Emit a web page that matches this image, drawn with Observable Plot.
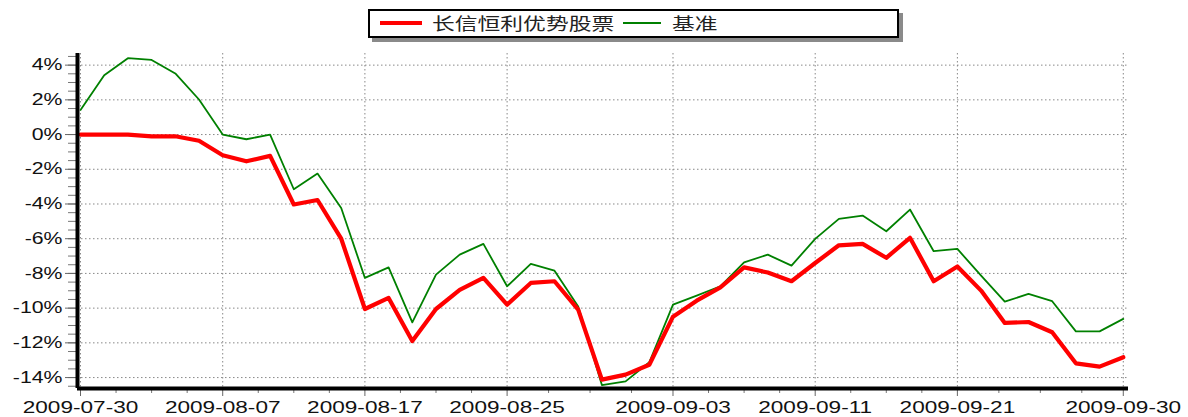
<!DOCTYPE html>
<html>
<head>
<meta charset="utf-8">
<script src="https://cdn.jsdelivr.net/npm/d3@7"></script>
<script src="https://cdn.jsdelivr.net/npm/@observablehq/plot@0.6"></script>
<style>
  html, body { margin: 0; padding: 0; background: #fff; }
  #wrap { position: relative; width: 1188px; height: 417px; overflow: hidden; }
  #legend { position: absolute; left: 368px; top: 9px; width: 527px; height: 25px;
    border: 2px solid #000; background: #fff; box-shadow: 4px 4px 0 #8a8a8a; }
  .sw { position: absolute; }
  .lt { position: absolute; top: 1px; font-family: "Noto Sans CJK SC", sans-serif; font-size: 17px;
    line-height: 22px; color: #222; transform: scaleX(1.34); transform-origin: 0 50%; white-space: nowrap; }
</style>
</head>
<body>
<div id="wrap">
  <div id="chart"></div>
  <div id="legend"></div>
</div>
<script>
const dates = ["2009-07-30","2009-07-31","2009-08-03","2009-08-04","2009-08-05","2009-08-06","2009-08-07",
  "2009-08-10","2009-08-11","2009-08-12","2009-08-13","2009-08-14","2009-08-17","2009-08-18","2009-08-19",
  "2009-08-20","2009-08-21","2009-08-24","2009-08-25","2009-08-26","2009-08-27","2009-08-28","2009-08-31",
  "2009-09-01","2009-09-02","2009-09-03","2009-09-04","2009-09-07","2009-09-08","2009-09-09","2009-09-10",
  "2009-09-11","2009-09-14","2009-09-15","2009-09-16","2009-09-17","2009-09-18","2009-09-21","2009-09-22",
  "2009-09-23","2009-09-24","2009-09-25","2009-09-28","2009-09-29","2009-09-30"];
const fund = [0.0, 0.0, 0.0, -0.1, -0.1, -0.36, -1.19, -1.54, -1.23, -4.03, -3.77, -6.0, -10.05, -9.41, -11.9,
  -10.05, -8.95, -8.26, -9.8, -8.55, -8.45, -10.09, -14.12, -13.83, -13.26, -10.49, -9.57, -8.8, -7.65, -7.95,
  -8.45, -7.4, -6.38, -6.3, -7.1, -5.95, -8.45, -7.6, -8.99, -10.85, -10.8, -11.39, -13.18, -13.37, -12.83];
const bench = [1.42, 3.42, 4.4, 4.3, 3.52, 2.02, 0.0, -0.27, 0.0, -3.15, -2.25, -4.23, -8.26, -7.65, -10.82,
  -8.07, -6.92, -6.3, -8.74, -7.45, -7.84, -9.91, -14.43, -14.22, -13.12, -9.8, -9.28, -8.74, -7.36, -6.92,
  -7.55, -6.01, -4.86, -4.67, -5.57, -4.32, -6.72, -6.59, -8.13, -9.63, -9.18, -9.6, -11.34, -11.34, -10.62];
const seriesNames = ["长信恒利优势股票", "基准"];
const seriesColors = ["#ff0000", "#008000"];
const tickIdx = [0, 6, 12, 18, 25, 31, 37, 44];
const yTicks = [-14, -12, -10, -8, -6, -4, -2, 0, 2, 4];

const data = dates.map((d, i) => ({i, date: d, fund: fund[i], bench: bench[i]}));
const xMinor = [];
for (let k = 0; k < tickIdx.length - 1; k++) {
  const a = tickIdx[k], b = tickIdx[k + 1];
  for (let j = 1; j < 4; j++) xMinor.push(a + (b - a) * j / 4);
}
const yMinor = d3.range(-14.5, 4.51, 0.5);
const xDom = [-0.127, 44.22];
const yDom = [-14.63, 4.67];

const grid = {stroke: "#888", strokeOpacity: 1, strokeWidth: 1, strokeDasharray: "1.5,2.5"};
const chart = Plot.plot({
  width: 1188, height: 417,
  marginLeft: 77, marginRight: 60, marginTop: 53, marginBottom: 29,
  x: {domain: xDom, label: null},
  y: {domain: yDom, label: null},
  style: {background: "white", fontFamily: "'Liberation Sans', Arial, sans-serif", color: "#111", overflow: "visible"},
  marks: [
    Plot.gridY(yTicks, grid),
    Plot.gridX(tickIdx, grid),
    Plot.line(data, {x: "i", y: "bench", stroke: seriesColors[1], strokeWidth: 1.8, strokeLinejoin: "round"}),
    Plot.line(data, {x: "i", y: "fund", stroke: seriesColors[0], strokeWidth: 4.2, strokeLinejoin: "round"}),
    Plot.axisY(yMinor, {tickSize: 9, text: null, stroke: "#777", label: null}),
    Plot.axisY(yTicks, {tickSize: 12, stroke: "#666", tickPadding: 3, fontSize: 16, fill: "#111",
      tickFormat: d => d + "%", label: null}),
    Plot.axisX(xMinor, {tickSize: 5, text: null, stroke: "#777", label: null}),
    Plot.axisX(tickIdx, {tickSize: 8, stroke: "#666", tickPadding: 4, fontSize: 17, fill: "#111",
      tickFormat: i => dates[i], label: null}),
    Plot.ruleX([xDom[0]], {stroke: "black", strokeWidth: 4}),
    Plot.ruleY([yDom[0]], {stroke: "black", strokeWidth: 4})
  ]
});
document.getElementById("chart").appendChild(chart);

// horizontal stretch of tick labels around their anchor point
chart.querySelectorAll("text").forEach(t => {
  const tr = t.getAttribute("transform");
  const x = +(t.getAttribute("x") || 0);
  const s = 1.33;
  const extra = x ? `translate(${x},0) scale(${s},1) translate(${-x},0)` : `scale(${s},1)`;
  t.setAttribute("transform", (tr ? tr + " " : "") + extra);
});

// legend
const lg = document.getElementById("legend");
const items = [
  {name: seriesNames[0], color: seriesColors[0], sx: 10, sw: 42, th: 4, tx: 62},
  {name: seriesNames[1], color: seriesColors[1], sx: 253, sw: 38, th: 2, tx: 302}
];
items.forEach(it => {
  const s = document.createElement("div");
  s.className = "sw";
  s.style.left = it.sx + "px"; s.style.width = it.sw + "px";
  s.style.top = (12 - it.th / 2) + "px"; s.style.height = it.th + "px";
  s.style.background = it.color;
  lg.appendChild(s);
  const t = document.createElement("div");
  t.className = "lt";
  t.style.left = it.tx + "px";
  t.textContent = it.name;
  lg.appendChild(t);
});
</script>
</body>
</html>
